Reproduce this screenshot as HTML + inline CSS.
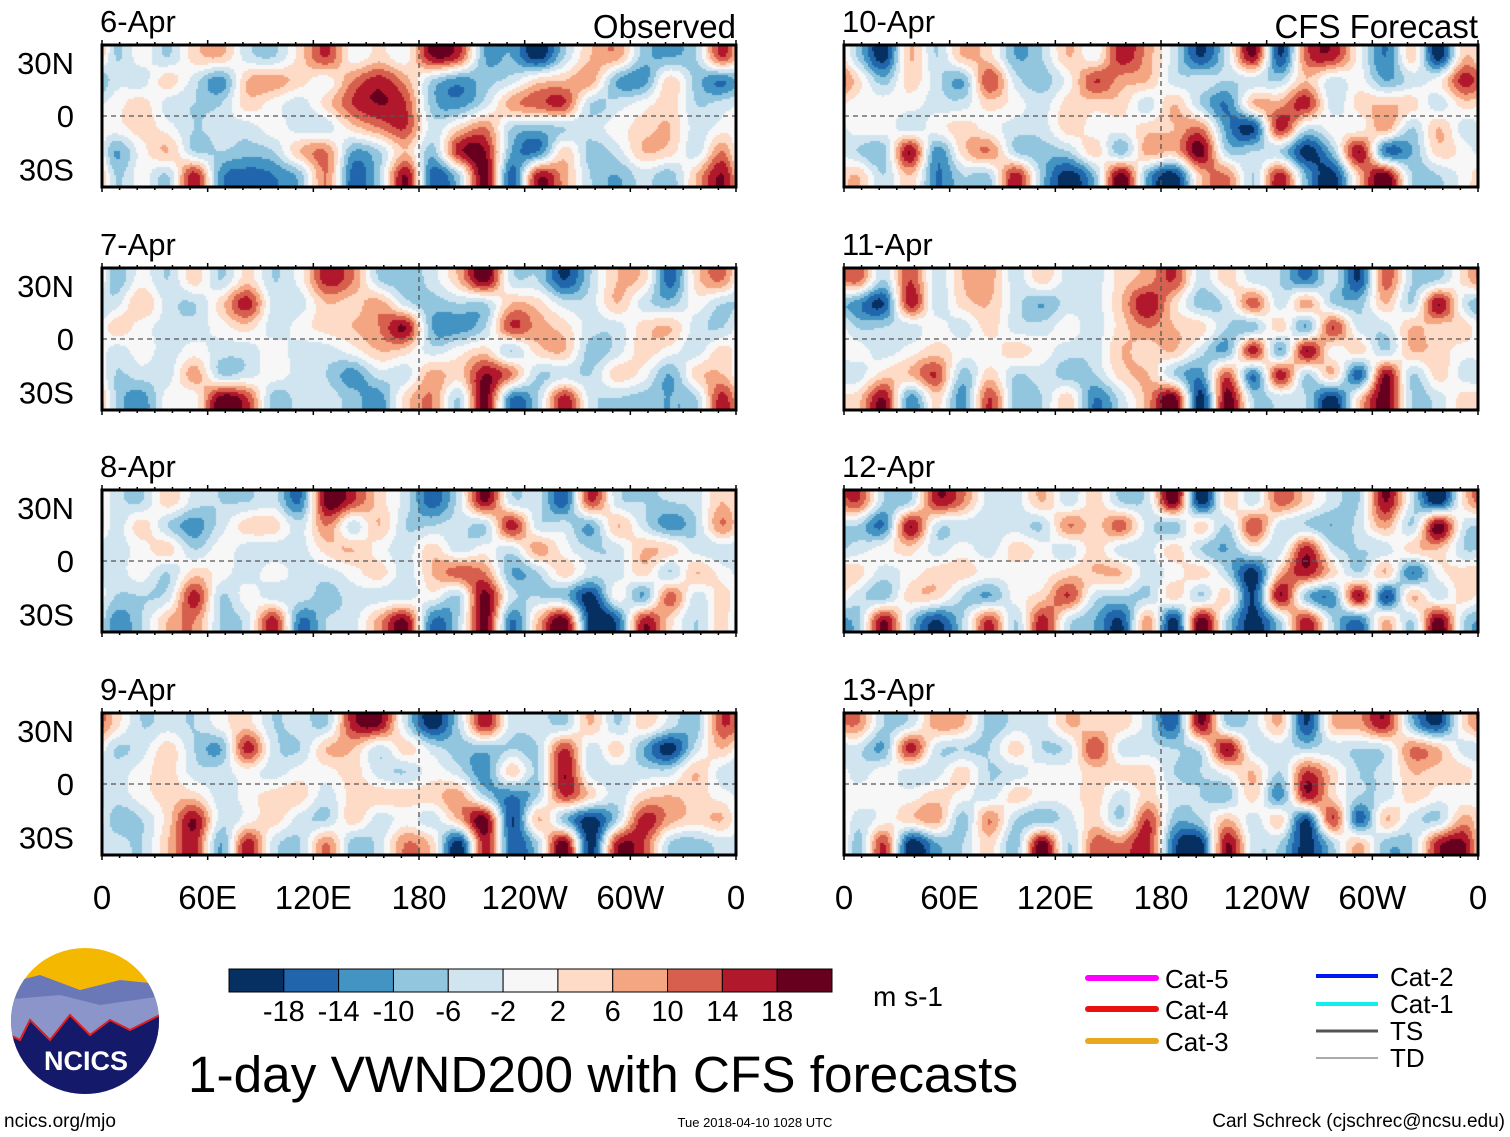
<!DOCTYPE html>
<html><head><meta charset="utf-8"><style>
body{margin:0;background:#fff;width:1510px;height:1137px;position:relative;overflow:hidden;font-family:"Liberation Sans",sans-serif}
canvas{position:absolute}
svg{position:absolute;left:0;top:0}
</style></head><body>
<div id="maps"></div>
<svg id="ov" width="1510" height="1137"></svg>
<script>
// grid values (m/s), 6 latitude bands (40N->40S) x 24 longitude bands (0E eastward, 15deg each)
const lonBands=24, latBands=6;
const panelTitles=["6-Apr","7-Apr","8-Apr","9-Apr","10-Apr","11-Apr","12-Apr","13-Apr"];
const colorLevels=[-18,-14,-10,-6,-2,2,6,10,14,18];
const colorbarLabels=["-18","-14","-10","-6","-2","2","6","10","14","18"];
const xTickLabels=["0","60E","120E","180","120W","60W","0"];
const yTickLabels=["30N","0","30S"];
const yTickLats=[30,0,-30];
const apr6=[
[-6,0,-6,4,6,-4,-6,4,14,0,4,0,18,14,-10,-10,-20,-6,6,8,-8,-10,-6,14],
[-4,-4,4,-4,-12,6,8,4,0,10,16,8,-6,-12,-8,-4,4,6,8,-10,-12,4,-8,-14],
[0,4,-4,-6,-6,4,0,-4,4,14,18,14,-8,-12,-4,8,12,14,-6,-4,0,4,-6,-4],
[0,4,0,-6,-4,-4,0,-4,-4,4,10,14,-4,4,10,-6,-8,-6,-4,0,4,6,-4,0],
[-10,0,6,-6,-6,-8,-6,6,10,-10,-6,6,-8,16,18,-10,-14,4,-8,-4,6,4,-4,10],
[-6,0,-6,16,-12,-16,-14,-8,10,-16,-6,18,-16,-6,20,-16,16,8,-6,-10,-4,-8,6,18]];
const apr7=[
[-8,0,-6,4,-6,4,-6,0,16,10,-6,-8,-4,6,20,-4,-6,-18,-6,6,4,-16,4,10],
[-4,6,-4,-6,4,16,-4,-4,6,4,8,-4,-8,-6,-6,6,4,-4,-4,6,-4,-8,0,-6],
[4,0,-4,-4,0,4,-4,0,4,6,10,18,-10,-12,-6,14,8,4,-4,-4,4,6,-4,-6],
[-4,0,-4,0,-4,-4,0,-4,-4,0,6,4,-4,0,4,-6,4,6,-8,-4,4,0,-4,4],
[-6,-4,-4,8,-6,-4,0,-4,-6,-12,-4,-4,8,4,18,10,-6,-4,-6,4,0,-10,4,6],
[-6,-12,0,0,20,14,-8,-4,-4,-8,-12,4,10,-6,20,-14,-6,16,-4,-6,-8,-10,-6,16]];
const apr8=[
[-4,-6,4,-4,-6,-6,-4,-14,20,14,4,-4,-16,-4,18,-4,-4,-16,14,-4,-6,-6,-4,6],
[-4,4,-6,-12,-4,4,4,-4,10,-4,6,-6,-6,-4,-6,16,-4,-4,-10,6,-4,-12,-6,10],
[-4,0,4,-6,0,-4,-4,-4,4,6,0,-4,4,-4,0,-4,8,0,-6,-4,6,4,-4,-4],
[-4,0,-6,4,0,-4,0,-4,-4,0,4,-4,6,12,10,-10,-6,4,-4,-4,4,-6,6,0],
[-6,-6,-4,16,-6,0,-4,-4,-8,-4,-4,-4,0,-6,20,-4,-6,-8,-20,0,-10,12,-4,4],
[-12,-6,6,10,-6,-4,16,-14,-6,-4,8,18,-14,-6,20,-14,6,20,-20,-16,16,4,-6,4]];
const apr9=[
[4,-6,-4,-6,0,4,-6,-4,-6,16,18,-4,-20,-6,16,-4,-4,-6,6,-6,4,-4,-8,14],
[-6,-4,4,-6,-10,16,-4,-6,6,6,-4,4,-4,-8,-8,-6,-6,14,-4,4,-10,-20,-4,6],
[-4,0,4,-4,-4,0,-4,0,0,4,-4,-6,0,-4,-12,4,-6,18,-4,-4,-4,-4,6,-4],
[-4,0,4,4,-4,0,4,4,-4,4,4,4,4,8,-6,-14,-6,14,4,-4,4,6,4,0],
[-8,-6,4,18,-4,0,4,-4,-6,4,-4,0,-4,6,20,-18,6,-8,-20,-6,16,8,4,6],
[-4,-6,6,16,-10,16,-4,-6,10,-8,-4,10,4,-20,16,-16,-6,20,-20,16,14,-6,-8,-4]];
const apr10=[
[-6,-20,6,-6,6,4,-10,-6,6,0,16,8,-4,-18,-4,18,-18,12,16,0,-14,4,-20,6],
[4,-8,4,-4,-10,14,-4,-8,0,14,8,6,-4,-4,-6,-4,-6,6,-4,0,-10,-4,0,16],
[0,0,0,-4,-4,4,0,-4,4,4,4,-4,6,-6,-14,6,8,16,-4,4,6,4,-4,4],
[0,0,-4,0,4,0,-4,-4,4,0,0,4,6,10,-12,-18,16,-4,0,0,8,-6,6,-4],
[-6,-8,18,-12,4,10,-6,-8,-6,4,-8,8,6,20,-6,-6,-6,-20,-8,18,-14,-10,4,0],
[6,-6,6,-14,-6,-6,16,-8,-20,-8,20,-10,-20,6,10,-6,16,-10,-20,6,20,-6,-6,0]];
const apr11=[
[12,-6,14,-4,6,8,-4,4,-4,-4,4,8,14,-4,4,-4,-6,-14,-4,-18,12,-6,-6,4],
[-12,-18,16,-4,4,6,-4,-10,-4,-4,6,18,4,-8,-4,12,-4,8,-6,-8,6,-6,18,-4],
[-6,-6,-4,0,-4,4,-4,-4,0,-4,4,10,6,4,-6,-8,4,-10,14,-4,-4,6,4,4],
[0,-4,0,4,0,0,4,0,-4,-4,6,4,6,-4,-10,16,-10,18,0,4,-6,6,4,0],
[-4,4,6,14,-8,4,-6,-4,-8,-6,4,6,-6,-12,12,-14,16,-6,6,-16,18,-6,4,-4],
[4,18,-12,4,-12,14,-8,-6,4,-14,-4,8,20,-20,20,-6,-4,-6,-20,4,20,-6,-4,4]];
const apr12=[
[14,-6,-6,16,10,-4,-4,6,-4,4,-6,-4,20,-20,4,-4,12,4,-4,-6,18,-4,-20,4],
[-6,-14,18,-4,-4,-6,-4,-6,10,4,12,-4,-8,4,-6,14,-4,-6,-10,-4,8,-6,20,-4],
[-4,0,4,-4,0,-4,4,0,-4,4,-4,-4,4,-6,-10,0,-4,16,-4,-6,-4,4,6,-6],
[4,-4,0,4,4,0,0,0,4,6,6,-4,0,4,-6,-20,6,16,4,-6,6,-14,0,4],
[-4,-8,4,4,-6,-10,0,4,14,-4,-6,-6,4,-6,4,-18,18,-8,-12,18,-18,6,-4,4],
[-8,18,-6,-18,-6,14,-6,16,-4,-10,-18,8,-20,20,-6,-20,-6,16,-6,-14,6,-6,20,-6]];
const apr13=[
[10,-6,-4,8,6,-8,-4,-4,6,4,4,-4,-16,18,-6,-4,6,-18,6,8,16,-8,-18,4],
[-4,-10,16,-4,-6,-6,4,-6,-4,14,-4,-4,-6,-4,18,-4,-4,-6,-4,-6,-4,10,6,-4],
[-4,0,-4,-4,4,-6,-4,0,0,4,4,4,-6,-6,0,6,-6,14,4,-6,-4,6,4,4],
[0,0,0,4,0,-4,4,0,0,4,-4,4,-4,-6,-8,4,-12,16,4,-6,-4,4,0,0],
[-4,0,4,8,-8,10,-6,-8,-4,4,-6,14,-8,-6,6,-4,4,-18,14,-16,6,-4,-6,8],
[-8,14,-20,-10,-6,4,-8,20,-6,12,10,16,-16,-20,18,-4,-6,-20,-6,6,-8,-6,16,18]];
const panelData=[apr6,apr7,apr8,apr9,apr10,apr11,apr12,apr13];

const palette=["#053061","#2166ac","#4393c3","#92c5de","#d1e5f0","#f7f7f7","#fddbc7","#f4a582","#d6604d","#b2182b","#67001f"];
const colX=[102,844], rowY=[45,268,490,713], PW=634, PH=142;
const latTop=40, latBot=-40;
function xScale(col,lon){return colX[col]+lon/360*PW;}
function yScale(row,lat){return rowY[row]+(latTop-lat)/(latTop-latBot)*PH;}
function colorFor(v){let i=0;while(i<colorLevels.length&&v>=colorLevels[i])i++;return palette[i];}
function cr(t){ // catmull-rom weights
  const t2=t*t,t3=t2*t;
  return [(-t3+2*t2-t)/2,(3*t3-5*t2+2)/2,(-3*t3+4*t2+t)/2,(t3-t2)/2];
}
function sample(g,fx,fy){
  const x0=Math.floor(fx),y0=Math.floor(fy);
  const wx=cr(fx-x0),wy=cr(fy-y0);
  let v=0;
  for(let j=0;j<4;j++){
    const yy=Math.min(latBands-1,Math.max(0,y0-1+j));
    let rv=0;
    for(let i=0;i<4;i++){
      const xx=((x0-1+i)%lonBands+lonBands)%lonBands;
      rv+=wx[i]*g[yy][xx];
    }
    v+=wy[j]*rv;
  }
  return v;
}
const maps=document.getElementById('maps');
const NS="http://www.w3.org/2000/svg";
const ov=document.getElementById('ov');
function sv(tag,attrs,parent){const e=document.createElementNS(NS,tag);for(const k in attrs)e.setAttribute(k,attrs[k]);(parent||ov).appendChild(e);return e;}
panelData.forEach((g,p)=>{
  const col=p<4?0:1,row=p%4;
  const c=document.createElement('canvas');
  
  
  c.width=PW;c.height=PH;c.style.left=colX[col]+'px';c.style.top=rowY[row]+'px';
  maps.appendChild(c);
  const ctx=c.getContext('2d');const s=2;
  for(let y=0;y<PH;y+=s)for(let x=0;x<PW;x+=s){
    const lon=(x+s/2)/PW*360, lat=latTop-(y+s/2)/PH*(latTop-latBot);
    const fx=lon/(360/lonBands)-0.5, fy=(latTop-lat)/((latTop-latBot)/latBands)-0.5;
    ctx.fillStyle=colorFor(sample(g,fx,fy));ctx.fillRect(x,y,s,s);
  }
  const x0=colX[col],y0=rowY[row];
  const eq=sv('line',{x1:x0,x2:x0+PW,y1:yScale(row,0),y2:yScale(row,0),stroke:'#555','stroke-width':1.3,'stroke-dasharray':'5,4'});
  
  
  const dl=sv('line',{x1:xScale(col,180),x2:xScale(col,180),y1:y0,y2:y0+PH,stroke:'#555','stroke-width':1.3,'stroke-dasharray':'5,4'});
  
  
  for(let l=0;l<=360;l+=10){
    const big=l%60===0, xx=xScale(col,l);
    sv('line',{x1:xx,x2:xx,y1:y0-(big?5:3),y2:y0,stroke:'#000','stroke-width':1.5});
    sv('line',{x1:xx,x2:xx,y1:y0+PH,y2:y0+PH+(big?5:3),stroke:'#000','stroke-width':1.5});
  }
  const fr=sv('rect',{x:x0,y:y0,width:PW,height:PH,fill:'none',stroke:'#000','stroke-width':3});
  
  
  const t=sv('text',{x:x0-2,y:y0-13,'font-size':31,fill:'#000'});t.textContent=panelTitles[p];
  
  
  if(col===0){yTickLabels.forEach((lb,i)=>{const tt=sv('text',{x:74,y:yScale(row,yTickLats[i])+11,'font-size':31,'text-anchor':'end'});tt.textContent=lb;
    
    });}
});
[0,1].forEach(col=>{xTickLabels.forEach((lb,i)=>{const tt=sv('text',{x:xScale(col,i*60),y:909,'font-size':33,'text-anchor':'middle'});tt.textContent=lb;
  
  });});
let h=sv('text',{x:736,y:38,'font-size':33,'text-anchor':'end'});h.textContent='Observed';


h=sv('text',{x:1478,y:38,'font-size':33,'text-anchor':'end'});h.textContent='CFS Forecast';


const cbX=229,cbW=603,cbY=969,cbH=23,bw=cbW/palette.length;
palette.forEach((cl,i)=>{const r=sv('rect',{x:cbX+i*bw,y:cbY,width:bw,height:cbH,fill:cl,stroke:'#000','stroke-width':1});
  
  });
colorbarLabels.forEach((lb,i)=>{const tt=sv('text',{x:cbX+(i+1)*bw,y:1021,'font-size':29,'text-anchor':'middle'});tt.textContent=lb;
  
  });
</script>
<svg width="1510" height="1137" style="position:absolute;left:0;top:0">
 <g>
  <defs><clipPath id="lc"><ellipse cx="85" cy="1021" rx="74" ry="73"/></clipPath></defs>
  <g clip-path="url(#lc)">
   <rect x="0" y="940" width="170" height="170" fill="#f5b800"/>
   <polygon points="0,985 40,975 80,990 120,980 170,985 170,1110 0,1110" fill="#6a78b8"/>
   <polygon points="0,1000 60,995 100,1005 170,995 170,1110 0,1110" fill="#8b95c9"/>
   <polygon points="0,1030 20,1040 30,1020 50,1040 70,1015 90,1035 110,1020 130,1030 170,1010 170,1110 0,1110" fill="#14196a" stroke="#e02020" stroke-width="2"/>
  </g>
  <text x="86" y="1070" font-size="27" font-weight="bold" fill="#fff" text-anchor="middle">NCICS</text>
 </g>
 <text x="873" y="1006" font-size="28">m s-1</text>
 <text x="188" y="1092" font-size="51" textLength="830" lengthAdjust="spacingAndGlyphs">1-day VWND200 with CFS forecasts</text>
 <g>
  <line x1="1088" x2="1156" y1="978" y2="978" stroke="#ff00ff" stroke-width="6" stroke-linecap="round"/>
  <line x1="1088" x2="1156" y1="1009" y2="1009" stroke="#e81010" stroke-width="6" stroke-linecap="round"/>
  <line x1="1088" x2="1156" y1="1041" y2="1041" stroke="#e8a820" stroke-width="6" stroke-linecap="round"/>
  <text x="1165" y="988" font-size="26">Cat-5</text>
  <text x="1165" y="1019" font-size="26">Cat-4</text>
  <text x="1165" y="1051" font-size="26">Cat-3</text>
  <line x1="1316" x2="1378" y1="976" y2="976" stroke="#0018f0" stroke-width="4"/>
  <line x1="1316" x2="1378" y1="1004" y2="1004" stroke="#10f0f0" stroke-width="4"/>
  <line x1="1316" x2="1378" y1="1031" y2="1031" stroke="#555" stroke-width="3"/>
  <line x1="1316" x2="1378" y1="1058" y2="1058" stroke="#aaa" stroke-width="2"/>
  <text x="1390" y="986" font-size="26">Cat-2</text>
  <text x="1390" y="1013" font-size="26">Cat-1</text>
  <text x="1390" y="1040" font-size="26">TS</text>
  <text x="1390" y="1067" font-size="26">TD</text>
 </g>
 <text x="4" y="1127" font-size="19">ncics.org/mjo</text>
 <text x="755" y="1127" font-size="13" text-anchor="middle">Tue 2018-04-10 1028 UTC</text>
 <text x="1505" y="1127" font-size="19" text-anchor="end">Carl Schreck (cjschrec@ncsu.edu)</text>
</svg>
</body></html>
